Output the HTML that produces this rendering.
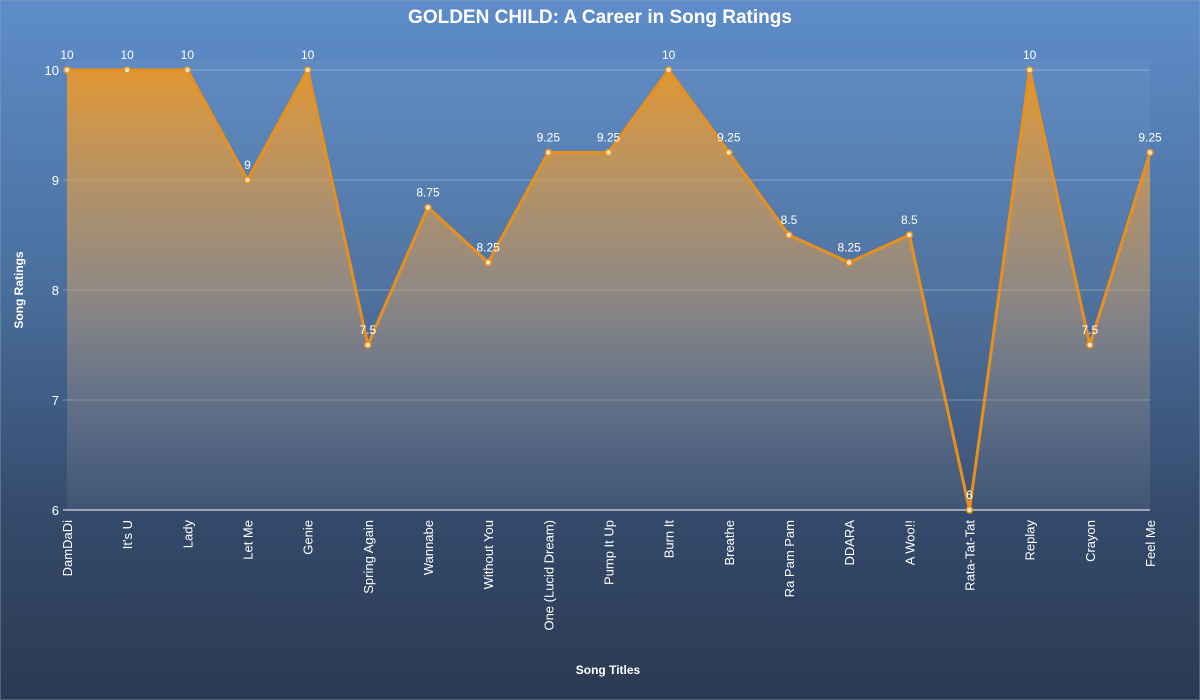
<!DOCTYPE html>
<html><head><meta charset="utf-8"><style>
html,body{margin:0;padding:0;width:1200px;height:700px;overflow:hidden}
body{background:linear-gradient(#5e8dca 0%,#4a6f9e 40%,#34496a 75%,#2b3a52 100%);font-family:"Liberation Sans",sans-serif}
svg{position:absolute;left:0;top:0}
</style></head><body>
<svg id="chart" width="1200" height="700">
<defs>
<linearGradient id="fillg" x1="0" y1="0" x2="0" y2="1">
<stop offset="0" stop-color="#e8982c" stop-opacity="0.95"/>
<stop offset="0.5" stop-color="#c49a6a" stop-opacity="0.55"/>
<stop offset="1" stop-color="#8a8a9a" stop-opacity="0.05"/>
</linearGradient>
</defs>
<rect x="0.5" y="0.5" width="1199" height="699" fill="none" stroke="#8aa" stroke-opacity="0.4"/>
<text x="600" y="23" text-anchor="middle" fill="#fff" font-size="19" font-weight="bold">GOLDEN CHILD: A Career in Song Ratings</text>
<text transform="translate(23,290) rotate(-90)" text-anchor="middle" fill="#fff" font-size="12" font-weight="bold">Song Ratings</text>
<text x="608" y="674" text-anchor="middle" fill="#fff" font-size="12" font-weight="bold">Song Titles</text>
<g id="plot"></g>
</svg>
<script>
const categories=["DamDaDi","It's U","Lady","Let Me","Genie","Spring Again","Wannabe","Without You","One (Lucid Dream)","Pump It Up","Burn It","Breathe","Ra Pam Pam","DDARA","A Woo!!","Rata-Tat-Tat","Replay","Crayon","Feel Me"];
const ratings=[10,10,10,9,10,7.5,8.75,8.25,9.25,9.25,10,9.25,8.5,8.25,8.5,6,10,7.5,9.25];
const yTicks=[6,7,8,9,10];
const X0=67,X1=1150,Y0=510,Y1=70,YMIN=6,YMAX=10;
const xs=i=>X0+(X1-X0)*i/(categories.length-1);
const ys=v=>Y0-(v-YMIN)/(YMAX-YMIN)*(Y0-Y1);
const NS="http://www.w3.org/2000/svg";
const g=document.getElementById('plot');
function mk(t,a,p){const e=document.createElementNS(NS,t);for(const k in a)e.setAttribute(k,a[k]);(p||g).appendChild(e);return e;}
const bg=mk('rect',{x:X0,y:Y1-10,width:X1-X0,height:Y0-Y1+10,fill:'#fff','fill-opacity':0.04});


yTicks.forEach(v=>{
 const l=mk('line',{x1:X0-4,x2:X1,y1:ys(v),y2:ys(v),stroke:'#fff','stroke-opacity':v===YMIN?1:0.3,'stroke-width':1});
 
 
 const t=mk('text',{x:X0-8,y:ys(v)+5,'text-anchor':'end',fill:'#fff','font-size':13});
 t.textContent=v;
 
 
});
let pts=ratings.map((v,i)=>xs(i)+','+ys(v)).join(' ');
const area=mk('polygon',{points:X0+','+Y0+' '+pts+' '+X1+','+Y0,fill:'url(#fillg)'});


const line=mk('polyline',{points:pts,fill:'none',stroke:'#e8901e','stroke-width':3,'stroke-linejoin':'round'});


ratings.forEach((v,i)=>{
 const c=mk('circle',{cx:xs(i),cy:ys(v),r:3,fill:'#fde6c4',stroke:'#e8901e','stroke-width':1.5});
 
 
 const t=mk('text',{x:xs(i),y:ys(v)-11,'text-anchor':'middle',fill:'#fff','font-size':12});
 t.textContent=v;
 
 
});
categories.forEach((c,i)=>{
 const t=mk('text',{transform:'translate('+(xs(i)+5)+','+(Y0+10)+') rotate(-90)','text-anchor':'end',fill:'#fff','font-size':13});
 t.textContent=c;
 
 
});
</script>
</body></html>
